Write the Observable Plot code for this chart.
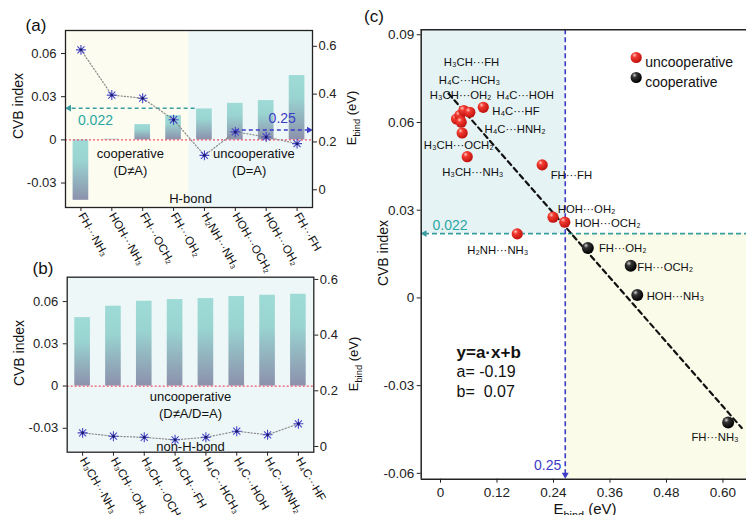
<!DOCTYPE html>
<html><head><meta charset="utf-8">
<script src="https://cdn.jsdelivr.net/npm/d3@7"></script>
<script src="https://cdn.jsdelivr.net/npm/@observablehq/plot@0.6"></script>
<style>
html,body{margin:0;padding:0;background:#fff;overflow:hidden}
#wrap{position:relative;width:746px;height:515px;font-family:"Liberation Sans",Arial,Helvetica,sans-serif}
#wrap svg{position:absolute;left:0;top:0;overflow:visible}
</style></head><body><div id="wrap"></div>
<script>
// ---------- DATA ----------
// panel (a): H-bond dimers
const hbondLabels = ["FH···NH₃","HOH···NH₃","FH···OCH₂","FH···OH₂","H₂NH···NH₃","HOH···OCH₂","HOH···OH₂","FH···FH"];
const hbondCVB    = [-0.042, 0.0005, 0.0106, 0.0169, 0.0215, 0.0254, 0.0273, 0.0447];
const hbondEbind  = [0.585, 0.396, 0.383, 0.293, 0.144, 0.242, 0.221, 0.193];
const hbondCoopCount = 4; // first four are cooperative (D≠A)
// panel (b): non-H-bond dimers
const nonHLabels = ["H₃CH···NH₃","H₃CH···OH₂","H₃CH···OCH₂","H₃CH···FH","H₄C···HCH₃","H₄C···HOH","H₄C···HNH₂","H₄C···HF"];
const nonHCVB    = [0.0486, 0.0567, 0.0602, 0.0614, 0.0621, 0.0636, 0.0645, 0.0652];
const nonHEbind  = [0.049, 0.037, 0.033, 0.024, 0.033, 0.055, 0.042, 0.0815];
// panel (c): scatter
const cEbind = [0.034, 0.041, 0.0495, 0.0623, 0.044, 0.046, 0.0568, 0.0908, 0.216, 0.239, 0.264, 0.163, 0.313, 0.404, 0.418, 0.611];
const cCVB   = [0.0612, 0.0624, 0.0641, 0.0635, 0.0601, 0.0564, 0.0483, 0.0652, 0.0455, 0.0276, 0.0259, 0.0219, 0.0171, 0.011, 0.001, -0.0426];
const cType  = ["u","u","u","u","u","u","u","u","u","u","u","u","c","c","c","c"];
const cLabelText = ["H₃CH···FH","H₄C···HCH₃","H₃CH···OH₂","H₄C···HOH","H₄C···HF","H₄C···HNH₂","H₃CH···OCH₂","H₃CH···NH₃","FH···FH","HOH···OH₂","HOH···OCH₂","H₂NH···NH₃","FH···OH₂","FH···OCH₂","HOH···NH₃","FH···NH₃"];
const cLabelX = [0.007, -0.0036, -0.0227, 0.119, 0.110, 0.0935, -0.0355, 0.0036, 0.234, 0.249, 0.285, 0.0568, 0.3365, 0.418, 0.438, 0.533];
const cLabelY = [0.0805, 0.0743, 0.0692, 0.0692, 0.0637, 0.0576, 0.0521, 0.0429, 0.0418, 0.0302, 0.0256, 0.0162, 0.0169, 0.0103, 0.0005, -0.0477];
const fitX = [0.017, 0.64];
const fitY = [0.0699, -0.0445];
const cvbThreshold = 0.022;
const ebindThreshold = 0.25;
const ebindThresholdC = 0.265;
const cvbTicks = [-0.03, 0, 0.03, 0.06];
const cvbTickLabels = ["-0.03", "0", "0.03", "0.06"];
const eTicks = [0, 0.2, 0.4, 0.6];
const eTickLabels = ["0", "0.2", "0.4", "0.6"];
const cXTicks = [0, 0.12, 0.24, 0.36, 0.48, 0.60];
const cXTickLabels = ["0", "0.12", "0.24", "0.36", "0.48", "0.60"];
const cYTicks = [-0.06, -0.03, 0, 0.03, 0.06, 0.09];
const cYTickLabels = ["-0.06", "-0.03", "0", "0.03", "0.06", "0.09"];

// ---------- STYLE ----------
const W = 746, H = 515;
const FONT = '"Liberation Sans", Arial, Helvetica, sans-serif';
const COL = {yellow:"#fcfcf1", cyan:"#edf7f7", cyanC:"#e6f3f5", yellowC:"#fbfbea",
  teal:"#3a9ea0", tealText:"#2aa7a3", blue:"#3b3bc6", red:"#f4506a", star:"#4646c8", axis:"#222"};
const wrap = document.getElementById("wrap");

function addDefs(svg, p) {
  const defs = d3.select(svg).insert("defs", ":first-child");
  const g = defs.append("linearGradient").attr("id", p + "bar").attr("x1", 0).attr("y1", 0).attr("x2", 0).attr("y2", 1);
  [["0%", "#9fdbd6"], ["35%", "#99d4d1"], ["100%", "#8c91ac"]].forEach(([o, c]) => g.append("stop").attr("offset", o).attr("stop-color", c));
  const r = defs.append("radialGradient").attr("id", p + "red").attr("cx", "35%").attr("cy", "30%").attr("r", "70%");
  [["0%", "#ffc8c0"], ["30%", "#f23a30"], ["100%", "#c0120e"]].forEach(([o, c]) => r.append("stop").attr("offset", o).attr("stop-color", c));
  const b = defs.append("radialGradient").attr("id", p + "black").attr("cx", "35%").attr("cy", "30%").attr("r", "70%");
  [["0%", "#d0d0d0"], ["30%", "#333"], ["100%", "#000"]].forEach(([o, c]) => b.append("stop").attr("offset", o).attr("stop-color", c));
}
function addLabel(svg, {x, y, rotate = 0, size = 13, anchor = "middle", parts, color = "#111", weight = "normal"}) {
  const t = d3.select(svg).append("text")
    .attr("transform", `translate(${x},${y}) rotate(${rotate})`)
    .attr("text-anchor", anchor).attr("font-size", size).attr("fill", color)
    .attr("font-family", FONT).attr("font-weight", weight);
  parts.forEach(([s, sub]) => {
    const ts = t.append("tspan").text(s);
    if (sub) ts.attr("font-size", size * 0.72).attr("dy", size * 0.3);
    else if (t.node().childNodes.length > 1) ts.attr("dy", -size * 0.3);
  });
}

// ---------- bar panels ----------
function barPanel({labels, cvb, ebind, box, yDom, eDom, regions, texts, arrows, p}) {
  const toY = e => yDom[0] + (e - eDom[0]) / (eDom[1] - eDom[0]) * (yDom[1] - yDom[0]);
  const rows = labels.map((label, i) => ({i, label, cvb: cvb[i], e: ebind[i]}));
  const eMap = new Map(eTicks.map((t, i) => [toY(t), eTickLabels[i]]));
  const cMap = new Map(cvbTicks.map((t, i) => [t, cvbTickLabels[i]]));
  const marks = [];
  regions.forEach(r => marks.push(Plot.rect([r], {x1: "x1", x2: "x2", y1: yDom[0], y2: yDom[1], fill: r.fill})));
  marks.push(Plot.rectY(rows, {x1: d => d.i, x2: d => d.i + 1, y1: 0, y2: "cvb", insetLeft: 7.6, insetRight: 7.6, fill: `url(#${p}bar)`}));
  marks.push(Plot.ruleY([0], {stroke: COL.red, strokeWidth: 1.3, strokeDasharray: "2,2"}));
  (arrows || []).forEach(a => {
    const yv = a.axis === "e" ? toY(a.value) : a.value;
    marks.push(Plot.ruleY([yv], {x1: a.from, x2: a.to, stroke: a.color, strokeWidth: 1.6, strokeDasharray: "4,3"}));
    marks.push(Plot.dot([yv], {x: a.to, y: d => d, symbol: "triangle2", rotate: a.to < a.from ? -90 : 90, r: 3.2, fill: a.color, dx: a.to < a.from ? 2 : -2}));
  });
  marks.push(Plot.line(rows, {x: d => d.i + 0.5, y: d => toY(d.e), stroke: "#8a8a8a", strokeWidth: 1.2, strokeDasharray: "1.2,2"}));
  marks.push(Plot.dot(rows, {x: d => d.i + 0.5, y: d => toY(d.e), symbol: "plus", r: 3.3, stroke: COL.star, strokeWidth: 1.1}));
  marks.push(Plot.dot(rows, {x: d => d.i + 0.5, y: d => toY(d.e), symbol: "times", r: 3.3, stroke: COL.star, strokeWidth: 1.1}));
  marks.push(Plot.dot(rows, {x: d => d.i + 0.5, y: d => toY(d.e), r: 1.5, fill: "#1d1d70"}));
  texts.forEach(t => marks.push(Plot.text([t.text], {x: t.x, y: t.y, text: d => d, fontSize: t.size || 13, fill: t.color || "#111"})));
  marks.push(Plot.frame({stroke: COL.axis, strokeWidth: 1.3}));
  marks.push(Plot.axisY({anchor: "left", ticks: cvbTicks, tickFormat: d => cMap.get(d), tickSize: 4, tickPadding: 5, fontSize: 13, label: null, color: COL.axis}));
  marks.push(Plot.axisY({anchor: "right", ticks: eTicks.map(toY), tickFormat: d => eMap.get(d), tickSize: 4, tickPadding: 2, fontSize: 13, label: null, color: COL.axis}));
  marks.push(Plot.axisX({ticks: rows.map(d => d.i + 0.5), tickFormat: () => "", tickSize: 4, label: null, color: COL.axis}));
  marks.push(Plot.text(rows, {x: d => d.i + 0.5, text: "label", frameAnchor: "bottom", rotate: 60, textAnchor: "start", dx: -3, dy: 8, fontSize: 11.5, fill: "#111"}));
  const svg = Plot.plot({
    width: W, height: H,
    marginLeft: box[0], marginRight: W - box[1], marginTop: box[2], marginBottom: H - box[3],
    x: {domain: [0, labels.length], axis: null},
    y: {domain: yDom, axis: null},
    style: {background: "transparent", overflow: "visible", fontFamily: FONT},
    marks
  });
  addDefs(svg, p);
  return svg;
}

// panel (a)
const svgA = barPanel({
  labels: hbondLabels, cvb: hbondCVB, ebind: hbondEbind, p: "a",
  box: [65, 312, 30, 207], yDom: [-0.047, 0.076], eDom: [-0.074, 0.666],
  regions: [{x1: 0, x2: hbondCoopCount, fill: COL.yellow}, {x1: hbondCoopCount, x2: hbondLabels.length, fill: COL.cyan}],
  arrows: [{axis: "c", value: cvbThreshold, from: 4.2, to: 0.05, color: COL.teal},
           {axis: "e", value: ebindThreshold, from: 5.5, to: 7.95, color: COL.blue}],
  texts: [{text: "cooperative", x: 2.1, y: -0.0095}, {text: "(D≠A)", x: 2.1, y: -0.0213},
          {text: "uncooperative", x: 6.1, y: -0.0095}, {text: "(D=A)", x: 5.95, y: -0.0213},
          {text: "H-bond", x: 4.05, y: -0.0408},
          {text: "0.022", x: 0.97, y: 0.0134, size: 14, color: COL.tealText},
          {text: "0.25", x: 7.02, y: 0.0148, size: 14, color: COL.blue}]
});
wrap.appendChild(svgA);
addLabel(svgA, {x: 36, y: 31, size: 17, anchor: "middle", parts: [["(a)"]]});
addLabel(svgA, {x: 23, y: 106, rotate: -90, size: 14, parts: [["CVB index"]]});
addLabel(svgA, {x: 356, y: 118, rotate: -90, size: 13, parts: [["E"], ["bind", true], [" (eV)"]]});

// panel (b)
const svgB = barPanel({
  labels: nonHLabels, cvb: nonHCVB, ebind: nonHEbind, p: "b",
  box: [66.7, 313.3, 276.7, 451.7], yDom: [-0.047, 0.0773], eDom: [-0.0205, 0.608],
  regions: [{x1: 0, x2: nonHLabels.length, fill: COL.cyan}],
  arrows: [],
  texts: [{text: "uncooperative", x: 4, y: -0.0078}, {text: "(D≠A/D=A)", x: 4, y: -0.0194},
          {text: "non-H-bond", x: 4, y: -0.0434}]
});
wrap.appendChild(svgB);
addLabel(svgB, {x: 43, y: 274, size: 17, anchor: "middle", parts: [["(b)"]]});
addLabel(svgB, {x: 24, y: 353, rotate: -90, size: 14, parts: [["CVB index"]]});
addLabel(svgB, {x: 358, y: 364, rotate: -90, size: 13, parts: [["E"], ["bind", true], [" (eV)"]]});

// panel (c)
const cxDom = [-0.041, 0.650], cyDom = [-0.062, 0.0917];
const pts = cEbind.map((x, i) => ({x, y: cCVB[i], t: cType[i]}));
const lbls = cLabelText.map((text, i) => ({text, x: cLabelX[i], y: cLabelY[i]}));
const fit = fitX.map((x, i) => ({x, y: fitY[i]}));
const cxMap = new Map(cXTicks.map((t, i) => [t, cXTickLabels[i]]));
const cyMap = new Map(cYTicks.map((t, i) => [t, cYTickLabels[i]]));
const svgC = Plot.plot({
  width: W, height: H,
  marginLeft: 420.7, marginRight: 0, marginTop: 29.3, marginBottom: H - 478.7,
  x: {domain: cxDom, axis: null},
  y: {domain: cyDom, axis: null},
  style: {background: "transparent", overflow: "visible", fontFamily: FONT},
  marks: [
    Plot.rect([0], {x1: cxDom[0], x2: ebindThresholdC, y1: cvbThreshold, y2: cyDom[1], fill: COL.cyanC}),
    Plot.rect([0], {x1: ebindThresholdC, x2: cxDom[1], y1: cyDom[0], y2: cvbThreshold, fill: COL.yellowC}),
    Plot.ruleY([cvbThreshold], {x1: -0.034, x2: cxDom[1], stroke: COL.teal, strokeWidth: 1.6, strokeDasharray: "5,3"}),
    Plot.dot([cvbThreshold], {x: -0.034, y: d => d, symbol: "triangle2", rotate: -90, r: 3.3, fill: COL.teal}),
    Plot.ruleX([ebindThresholdC], {y1: cyDom[1], y2: -0.0605, stroke: COL.blue, strokeWidth: 1.6, strokeDasharray: "5,3"}),
    Plot.dot([ebindThresholdC], {x: d => d, y: -0.0605, symbol: "triangle2", rotate: 180, r: 3.3, fill: COL.blue}),
    Plot.line(fit, {x: "x", y: "y", stroke: "#111", strokeWidth: 2.2, strokeDasharray: "5,4"}),
    Plot.dot(pts.filter(d => d.t === "u"), {x: "x", y: "y", r: 5.6, fill: "url(#cred)"}),
    Plot.dot(pts.filter(d => d.t === "c"), {x: "x", y: "y", r: 6, fill: "url(#cblack)"}),
    Plot.text(lbls, {x: "x", y: "y", text: "text", textAnchor: "start", fontSize: 11.3, fill: "#111"}),
    Plot.text(["0.022"], {x: 0.0202, y: 0.0246, text: d => d, fontSize: 14, fill: COL.tealText}),
    Plot.text(["0.25"], {x: 0.2275, y: -0.0574, text: d => d, fontSize: 14, fill: COL.blue}),
    // legend
    Plot.dot(["u"], {frameAnchor: "top-left", dx: 215, dy: 27.7, r: 5.6, fill: "url(#cred)"}),
    Plot.dot(["c"], {frameAnchor: "top-left", dx: 215, dy: 47.7, r: 5.6, fill: "url(#cblack)"}),
    Plot.text(["uncooperative"], {frameAnchor: "top-left", dx: 224, dy: 27.7, text: d => d, textAnchor: "start", fontSize: 14, fill: "#111"}),
    Plot.text(["cooperative"], {frameAnchor: "top-left", dx: 224, dy: 47.7, text: d => d, textAnchor: "start", fontSize: 14, fill: "#111"}),
    // equation
    Plot.text(["y=a·x+b"], {frameAnchor: "top-left", dx: 35.3, dy: 316.4, text: d => d, textAnchor: "start", fontSize: 17, fontWeight: "bold", fill: "#111"}),
    Plot.text(["a= -0.19"], {frameAnchor: "top-left", dx: 35.3, dy: 335.7, text: d => d, textAnchor: "start", fontSize: 16, fill: "#111"}),
    Plot.text(["b=  0.07"], {frameAnchor: "top-left", dx: 35.3, dy: 355.7, text: d => d, textAnchor: "start", fontSize: 16, fill: "#111", style: "white-space:pre"}),
    // frame (left, top, bottom)
    Plot.ruleX([cxDom[0]], {stroke: COL.axis, strokeWidth: 1.5}),
    Plot.ruleY([cyDom[0], cyDom[1]], {stroke: COL.axis, strokeWidth: 1.5}),
    Plot.axisY({anchor: "left", ticks: cYTicks, tickFormat: d => cyMap.get(d), tickSize: 4, tickPadding: 3, fontSize: 13.5, label: null, color: COL.axis}),
    Plot.axisX({anchor: "bottom", ticks: cXTicks, tickFormat: d => cxMap.get(d), tickSize: 4, tickPadding: 4, fontSize: 13.5, label: null, color: COL.axis})
  ]
});
addDefs(svgC, "c");
wrap.appendChild(svgC);
addLabel(svgC, {x: 374, y: 22, size: 17, anchor: "middle", parts: [["(c)"]]});
addLabel(svgC, {x: 388, y: 253, rotate: -90, size: 14, parts: [["CVB index"]]});
addLabel(svgC, {x: 585, y: 514, size: 15, parts: [["E"], ["bind", true], [" (eV)"]]});
</script></body></html>
